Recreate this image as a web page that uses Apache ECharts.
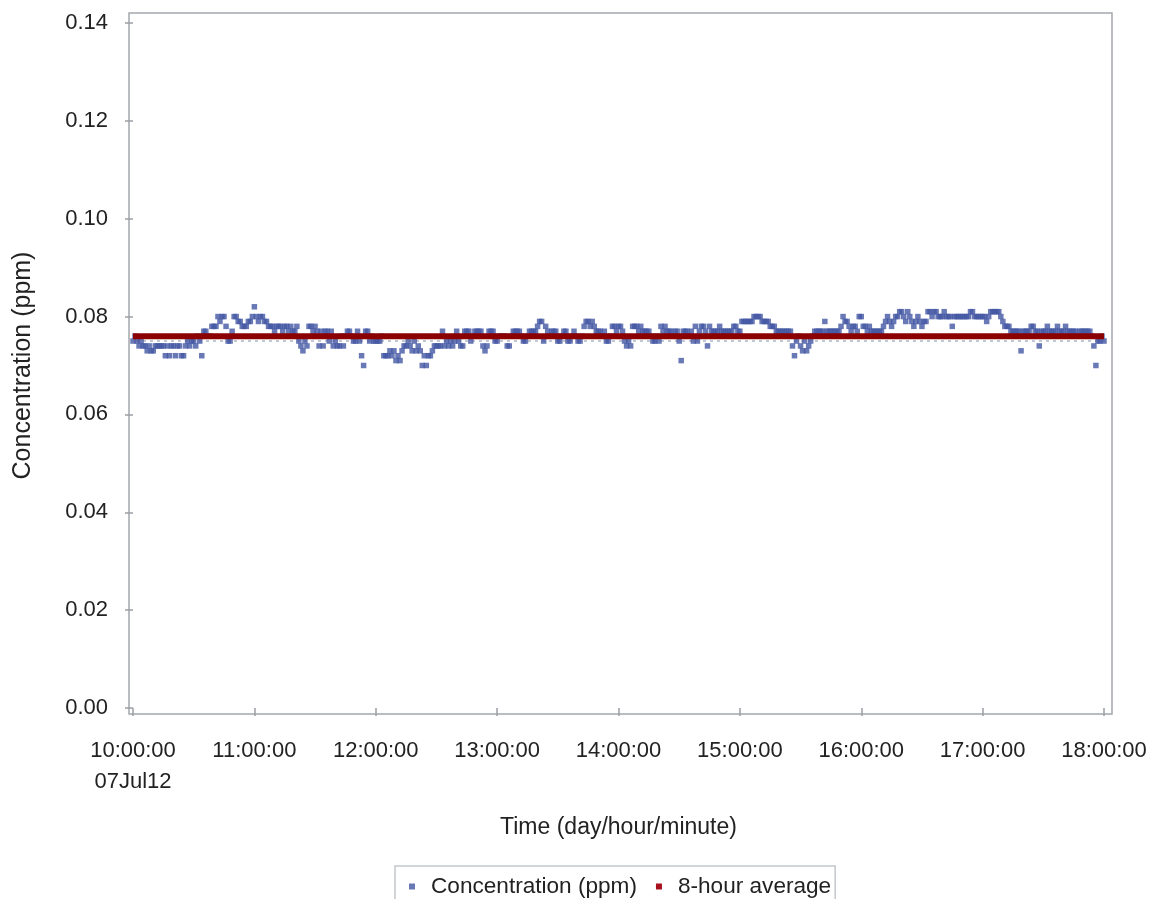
<!DOCTYPE html>
<html>
<head>
<meta charset="utf-8">
<script src="https://cdn.jsdelivr.net/npm/echarts@6/dist/echarts.min.js"></script>
<style>
html,body{margin:0;padding:0;background:#fff;}
#chart{width:1150px;height:899px;}
</style>
</head>
<body>
<div id="chart"></div>
<script>
// minutes after 10:00:00 on 07Jul12, one reading per minute
const concentration = [
0.075,0.076,0.075,0.074,0.075,0.074,0.074,0.073,0.074,0.073,
0.073,0.074,0.074,0.074,0.074,0.074,0.072,0.074,0.072,0.074,
0.074,0.072,0.074,0.074,0.072,0.072,0.074,0.075,0.074,0.075,
0.075,0.074,0.076,0.075,0.072,0.077,0.077,0.076,0.076,0.078,
0.078,0.078,0.080,0.079,0.080,0.080,0.078,0.075,0.075,0.077,
0.080,0.080,0.079,0.079,0.078,0.078,0.078,0.079,0.079,0.080,
0.082,0.080,0.079,0.080,0.080,0.079,0.079,0.078,0.078,0.078,
0.077,0.078,0.078,0.078,0.077,0.078,0.078,0.077,0.078,0.077,
0.077,0.078,0.075,0.074,0.073,0.075,0.074,0.078,0.078,0.077,
0.078,0.077,0.074,0.077,0.074,0.077,0.077,0.075,0.077,0.074,
0.075,0.074,0.074,0.076,0.074,0.076,0.077,0.077,0.076,0.075,
0.075,0.077,0.075,0.072,0.070,0.077,0.077,0.075,0.076,0.075,
0.075,0.075,0.075,0.076,0.072,0.072,0.072,0.073,0.072,0.073,
0.071,0.072,0.071,0.073,0.074,0.074,0.075,0.074,0.073,0.075,
0.073,0.074,0.073,0.070,0.072,0.070,0.072,0.072,0.073,0.074,
0.074,0.074,0.074,0.077,0.074,0.075,0.074,0.075,0.074,0.075,
0.077,0.075,0.074,0.074,0.077,0.077,0.077,0.075,0.076,0.077,
0.077,0.077,0.077,0.074,0.073,0.074,0.077,0.077,0.077,0.075,
0.075,0.076,0.076,0.076,0.076,0.074,0.074,0.076,0.077,0.077,
0.077,0.077,0.076,0.075,0.075,0.076,0.077,0.077,0.077,0.077,
0.078,0.079,0.079,0.075,0.078,0.077,0.076,0.077,0.077,0.077,
0.075,0.075,0.076,0.077,0.077,0.075,0.075,0.076,0.077,0.076,
0.075,0.075,0.076,0.078,0.079,0.079,0.078,0.079,0.078,0.077,
0.077,0.077,0.076,0.077,0.075,0.075,0.076,0.078,0.078,0.077,
0.078,0.078,0.077,0.075,0.074,0.075,0.074,0.078,0.078,0.078,
0.077,0.078,0.077,0.077,0.077,0.077,0.076,0.075,0.075,0.076,
0.075,0.078,0.077,0.078,0.077,0.077,0.077,0.076,0.077,0.077,
0.075,0.071,0.077,0.077,0.077,0.076,0.077,0.075,0.078,0.075,
0.077,0.078,0.078,0.077,0.074,0.078,0.077,0.077,0.077,0.077,
0.078,0.077,0.077,0.077,0.077,0.077,0.077,0.078,0.078,0.077,
0.077,0.079,0.079,0.079,0.079,0.079,0.079,0.080,0.080,0.080,
0.080,0.079,0.079,0.079,0.079,0.078,0.078,0.078,0.077,0.077,
0.077,0.077,0.077,0.077,0.077,0.077,0.074,0.072,0.075,0.076,
0.074,0.073,0.075,0.073,0.074,0.075,0.076,0.077,0.077,0.077,
0.077,0.077,0.079,0.077,0.077,0.077,0.077,0.077,0.077,0.077,
0.078,0.080,0.079,0.079,0.078,0.077,0.078,0.078,0.077,0.080,
0.080,0.078,0.078,0.077,0.078,0.077,0.077,0.077,0.077,0.077,
0.077,0.078,0.079,0.080,0.079,0.078,0.079,0.080,0.080,0.081,
0.081,0.080,0.079,0.081,0.080,0.079,0.078,0.079,0.080,0.079,
0.078,0.079,0.079,0.081,0.081,0.080,0.081,0.081,0.080,0.080,
0.080,0.081,0.080,0.080,0.080,0.078,0.080,0.080,0.080,0.080,
0.080,0.080,0.080,0.080,0.081,0.081,0.080,0.080,0.080,0.080,
0.080,0.080,0.079,0.080,0.081,0.081,0.081,0.081,0.081,0.080,
0.079,0.078,0.078,0.078,0.077,0.077,0.077,0.077,0.077,0.073,
0.077,0.077,0.077,0.077,0.078,0.078,0.077,0.077,0.074,0.077,
0.077,0.077,0.078,0.077,0.077,0.077,0.077,0.078,0.077,0.077,
0.077,0.078,0.077,0.077,0.077,0.077,0.077,0.076,0.077,0.077,
0.077,0.077,0.077,0.077,0.076,0.074,0.070,0.075,0.075,0.076,
0.075
];
const eightHourAverage = 0.076;
const averageSpan = [0, 480];
const referenceLevel = 0.075;
const referenceSpan = [-2, 484];
const xTickLabels = ['10:00:00\n07Jul12','11:00:00','12:00:00','13:00:00','14:00:00','15:00:00','16:00:00','17:00:00','18:00:00'];
const yTicks = [0.00,0.02,0.04,0.06,0.08,0.10,0.12,0.14];
const seriesNames = ['Concentration (ppm)', '8-hour average'];
const xTitle = 'Time (day/hour/minute)';
const yTitle = 'Concentration (ppm)';

const FONT = "'Liberation Sans', Arial, sans-serif";
const scatterData = concentration.map((v, i) => [i, v]);
const avgData = averageSpan.map(m => [m, eightHourAverage]);
const refData = referenceSpan.map(m => [m, referenceLevel]);

const chart = echarts.init(document.getElementById('chart'), null, {renderer: 'canvas'});
chart.setOption({
  animation: false,
  backgroundColor: '#fff',
  textStyle: {fontFamily: FONT},
  grid: {left: 133, right: 46, top: 23, bottom: 191, containLabel: false},
  graphic: [{
    type: 'rect', z: 0, silent: true,
    shape: {x: 129, y: 13, width: 983, height: 701},
    style: {fill: 'none', stroke: '#a3a8ae', lineWidth: 1.5}
  }],
  xAxis: {
    type: 'value', min: 0, max: 480, interval: 60, offset: 6,
    axisLine: {show: false},
    axisTick: {show: true, length: 8, lineStyle: {color: '#9a9fa5', width: 1.5}},
    splitLine: {show: false},
    axisLabel: {
      margin: 21, fontSize: 22, color: '#222', fontFamily: FONT, lineHeight: 31,
      formatter: v => xTickLabels[Math.round(v / 60)]
    },
    name: xTitle, nameLocation: 'middle', nameGap: 102,
    nameTextStyle: {fontSize: 23, color: '#222', fontFamily: FONT}
  },
  yAxis: {
    type: 'value', min: 0, max: 0.14, interval: 0.02, offset: 4,
    axisLine: {show: false},
    axisTick: {show: true, length: 8, lineStyle: {color: '#9a9fa5', width: 1.5}},
    splitLine: {show: false},
    axisLabel: {
      margin: 21, fontSize: 22, color: '#222', fontFamily: FONT,
      formatter: v => yTicks[Math.round(v / 0.02)].toFixed(2)
    },
    name: yTitle, nameLocation: 'middle', nameGap: 93, nameRotate: 90,
    nameTextStyle: {fontSize: 25, color: '#222', fontFamily: FONT}
  },
  legend: {
    left: 395, top: 866,
    padding: [9, 4, 10, 14],
    itemWidth: 6, itemHeight: 6, itemGap: 19,
    borderColor: '#c4c7cb', borderWidth: 1.5,
    textStyle: {fontSize: 22.6, color: '#222', fontFamily: FONT, padding: [0, 0, 0, 11]},
    data: [
      {name: seriesNames[0], icon: 'rect', itemStyle: {color: '#4458a4'}},
      {name: seriesNames[1], icon: 'rect', itemStyle: {color: '#a8101e'}}
    ]
  },
  series: [
    {
      name: 'reference', type: 'line', symbol: 'none', silent: true, z: 2,
      lineStyle: {color: '#aab6c6', type: [3, 4], width: 1.5},
      data: refData
    },
    {
      name: seriesNames[0], type: 'scatter', symbol: 'rect', symbolSize: 5.5,
      itemStyle: {color: '#4458a4'}, z: 3,
      data: scatterData
    },
    {
      name: seriesNames[1], type: 'line', showSymbol: false, symbol: 'none',
      lineStyle: {color: '#8b0000', width: 6}, itemStyle: {color: '#8b0000'}, z: 4,
      data: avgData
    }
  ]
});
</script>
</body>
</html>
